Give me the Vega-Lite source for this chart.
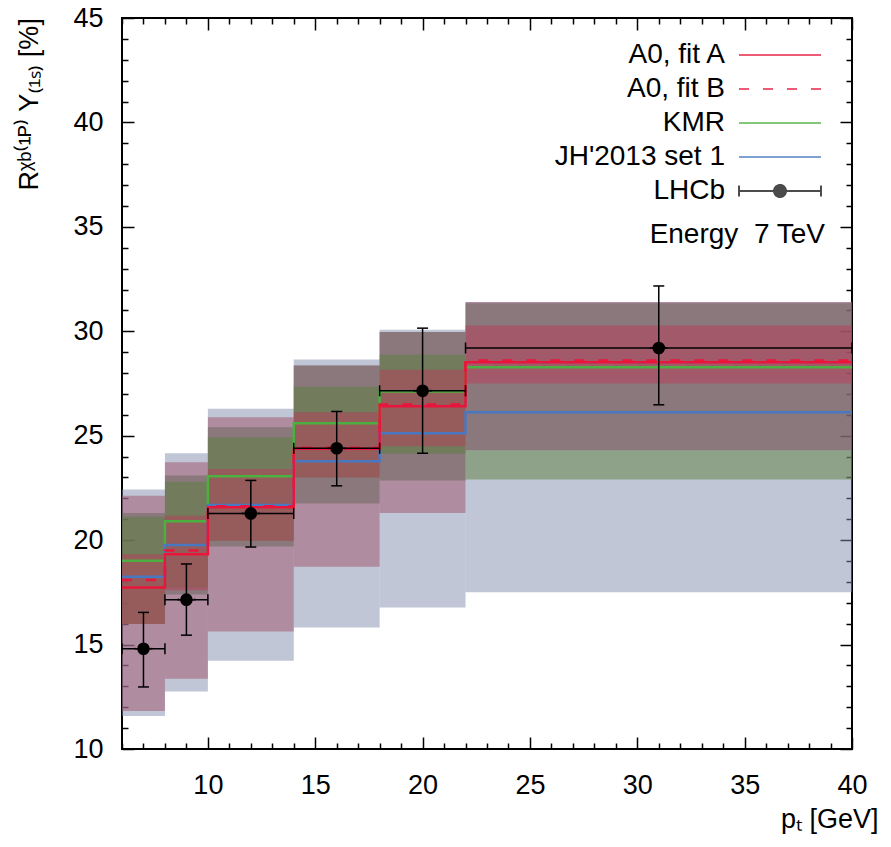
{
  "$schema": "https://vega.github.io/schema/vega-lite/v6.json",
  "width": 730,
  "height": 731,
  "autosize": "none",
  "padding": {"left": 122, "top": 18, "right": 39, "bottom": 98},
  "datasets": {
    "bands": [
      {"band": "JH", "x0": 6, "x1": 8, "lo": 11.58, "hi": 22.42},
      {"band": "JH", "x0": 8, "x1": 10, "lo": 12.75, "hi": 24.16},
      {"band": "JH", "x0": 10, "x1": 14, "lo": 14.22, "hi": 26.29},
      {"band": "JH", "x0": 14, "x1": 18, "lo": 15.82, "hi": 28.65},
      {"band": "JH", "x0": 18, "x1": 22, "lo": 16.78, "hi": 30.07},
      {"band": "JH", "x0": 22, "x1": 40, "lo": 17.5, "hi": 31.4},
      {"band": "A0 B", "x0": 6, "x1": 8, "lo": 11.82, "hi": 22.13},
      {"band": "A0 B", "x0": 8, "x1": 10, "lo": 13.36, "hi": 23.73},
      {"band": "A0 B", "x0": 10, "x1": 14, "lo": 15.63, "hi": 25.89},
      {"band": "A0 B", "x0": 14, "x1": 18, "lo": 18.73, "hi": 28.36},
      {"band": "A0 B", "x0": 18, "x1": 22, "lo": 21.3, "hi": 29.96},
      {"band": "A0 B", "x0": 22, "x1": 40, "lo": 24.3, "hi": 31.4},
      {"band": "A0 inner", "x0": 6, "x1": 8, "lo": 16.0, "hi": 21.3},
      {"band": "A0 inner", "x0": 8, "x1": 10, "lo": 17.4, "hi": 23.1},
      {"band": "A0 inner", "x0": 10, "x1": 14, "lo": 19.7, "hi": 25.4},
      {"band": "A0 inner", "x0": 14, "x1": 18, "lo": 21.76, "hi": 28.36},
      {"band": "A0 inner", "x0": 18, "x1": 22, "lo": 22.85, "hi": 29.96},
      {"band": "A0 inner", "x0": 22, "x1": 40, "lo": 24.3, "hi": 31.34},
      {"band": "KMR", "x0": 6, "x1": 8, "lo": 16.0, "hi": 21.12},
      {"band": "KMR", "x0": 8, "x1": 10, "lo": 17.73, "hi": 22.8},
      {"band": "KMR", "x0": 10, "x1": 14, "lo": 19.97, "hi": 24.93},
      {"band": "KMR", "x0": 14, "x1": 18, "lo": 23.0, "hi": 27.36},
      {"band": "KMR", "x0": 18, "x1": 22, "lo": 24.14, "hi": 28.89},
      {"band": "KMR", "x0": 22, "x1": 40, "lo": 22.9, "hi": 24.3},
      {"band": "A0 A", "x0": 6, "x1": 8, "lo": 15.98, "hi": 19.33},
      {"band": "A0 A", "x0": 8, "x1": 10, "lo": 17.6, "hi": 21.17},
      {"band": "A0 A", "x0": 10, "x1": 14, "lo": 19.97, "hi": 23.41},
      {"band": "A0 A", "x0": 14, "x1": 18, "lo": 23.0, "hi": 26.12},
      {"band": "A0 A", "x0": 18, "x1": 22, "lo": 24.5, "hi": 28.16},
      {"band": "A0 A", "x0": 22, "x1": 40, "lo": 27.5, "hi": 30.28}
    ],
    "lines": [
      {"series": "KMR", "pt": 6, "value": 19.01},
      {"series": "KMR", "pt": 8, "value": 20.9},
      {"series": "KMR", "pt": 10, "value": 23.06},
      {"series": "KMR", "pt": 14, "value": 25.6},
      {"series": "KMR", "pt": 18, "value": 27.12},
      {"series": "KMR", "pt": 22, "value": 28.28},
      {"series": "KMR", "pt": 40, "value": 28.28},
      {"series": "JH'2013 set 1", "pt": 6, "value": 18.25},
      {"series": "JH'2013 set 1", "pt": 8, "value": 19.77},
      {"series": "JH'2013 set 1", "pt": 10, "value": 21.68},
      {"series": "JH'2013 set 1", "pt": 14, "value": 23.78},
      {"series": "JH'2013 set 1", "pt": 18, "value": 25.12},
      {"series": "JH'2013 set 1", "pt": 22, "value": 26.12},
      {"series": "JH'2013 set 1", "pt": 40, "value": 26.12},
      {"series": "A0, fit A", "pt": 6, "value": 17.73},
      {"series": "A0, fit A", "pt": 8, "value": 19.33},
      {"series": "A0, fit A", "pt": 10, "value": 21.57},
      {"series": "A0, fit A", "pt": 14, "value": 24.37},
      {"series": "A0, fit A", "pt": 18, "value": 26.41},
      {"series": "A0, fit A", "pt": 22, "value": 28.52},
      {"series": "A0, fit A", "pt": 40, "value": 28.52},
      {"series": "A0, fit B", "pt": 6, "value": 18.09},
      {"series": "A0, fit B", "pt": 8, "value": 19.5},
      {"series": "A0, fit B", "pt": 10, "value": 21.62},
      {"series": "A0, fit B", "pt": 14, "value": 24.42},
      {"series": "A0, fit B", "pt": 18, "value": 26.5},
      {"series": "A0, fit B", "pt": 22, "value": 28.6},
      {"series": "A0, fit B", "pt": 40, "value": 28.6}
    ],
    "lhcb": [
      {"series": "LHCb", "pt": 7.0, "ptlo": 6, "pthi": 8, "r": 14.8, "rlo": 12.97, "rhi": 16.54},
      {"series": "LHCb", "pt": 9.0, "ptlo": 8, "pthi": 10, "r": 17.15, "rlo": 15.45, "rhi": 18.86},
      {"series": "LHCb", "pt": 12.0, "ptlo": 10, "pthi": 14, "r": 21.28, "rlo": 19.67, "rhi": 22.86},
      {"series": "LHCb", "pt": 16.0, "ptlo": 14, "pthi": 18, "r": 24.4, "rlo": 22.6, "rhi": 26.16},
      {"series": "LHCb", "pt": 20.0, "ptlo": 18, "pthi": 22, "r": 27.15, "rlo": 24.16, "rhi": 30.15},
      {"series": "LHCb", "pt": 31.0, "ptlo": 22, "pthi": 40, "r": 29.2, "rlo": 26.48, "rhi": 32.17}
    ]
  },
  "resolve": {"axis": {"x": "independent", "y": "independent"}},
  "layer": [
    {
      "data": {"name": "bands"},
      "mark": {"type": "rect"},
      "encoding": {
        "x": {
          "field": "x0",
          "type": "quantitative",
          "scale": {"domain": [6, 40], "nice": false, "zero": false},
          "axis": {
            "orient": "bottom",
            "title": "pₜ [GeV]",
            "values": [6, 7, 8, 9, 10, 11, 12, 13, 14, 15, 16, 17, 18, 19, 20, 21, 22, 23, 24, 25, 26, 27, 28, 29, 30, 31, 32, 33, 34, 35, 36, 37, 38, 39, 40],
            "tickSize": {"condition": {"test": "datum.value % 5 === 0", "value": -12}, "value": -6},
            "labelExpr": "datum.value % 5 === 0 ? datum.label : ''",
            "labelPadding": 35,
            "titleX": 756,
            "titleY": 78,
            "titleAlign": "right",
            "titleBaseline": "alphabetic"
          }
        },
        "x2": {"field": "x1"},
        "y": {
          "field": "lo",
          "type": "quantitative",
          "scale": {"domain": [10, 45], "nice": false, "zero": false},
          "axis": {
            "orient": "left",
            "title": "Rᵡᵇ⁽¹ᴾ⁾ Υ₍₁ₛ₎ [%]",
            "values": [10, 11, 12, 13, 14, 15, 16, 17, 18, 19, 20, 21, 22, 23, 24, 25, 26, 27, 28, 29, 30, 31, 32, 33, 34, 35, 36, 37, 38, 39, 40, 41, 42, 43, 44, 45],
            "tickSize": {"condition": {"test": "datum.value % 5 === 0", "value": -12}, "value": -6},
            "labelExpr": "datum.value % 5 === 0 ? datum.label : ''",
            "labelPadding": 31,
            "titleX": -85,
            "titleY": 172,
            "titleAngle": -90,
            "titleAlign": "left",
            "titleBaseline": "alphabetic"
          }
        },
        "y2": {"field": "hi"},
        "fill": {
          "field": "band",
          "type": "nominal",
          "scale": {"domain": ["JH", "A0 B", "A0 inner", "KMR", "A0 A"], "range": ["#818dad", "#a0526a", "#64645a", "#5a7d3c", "#b93b5a"]},
          "legend": null
        },
        "opacity": {
          "field": "band",
          "type": "ordinal",
          "scale": {"domain": ["JH", "A0 B", "A0 inner", "KMR", "A0 A"], "range": [0.5, 0.5, 0.4, 0.4, 0.6]},
          "legend": null
        }
      }
    },
    {
      "data": {"name": "lines"},
      "mark": {"type": "line", "interpolate": "step-after", "strokeWidth": 2.5},
      "encoding": {
        "x": {"field": "pt", "type": "quantitative", "axis": null},
        "y": {"field": "value", "type": "quantitative", "axis": null},
        "stroke": {
          "field": "series",
          "type": "nominal",
          "scale": {
            "domain": ["A0, fit A", "A0, fit B", "KMR", "JH'2013 set 1", "LHCb"],
            "range": ["#e8163c", "#e8163c", "#4cb040", "#4a78c0", "black"]
          },
          "legend": {
            "title": "Energy\u00a0 7 TeV",
            "titleOrient": "bottom",
            "titleAnchor": "end",
            "titleFontSize": 28,
            "titleFontWeight": "normal",
            "titlePadding": 16,
            "orient": "none",
            "legendX": 527,
            "legendY": 23,
            "padding": 0,
            "symbolSize": 400,
            "symbolStrokeWidth": 2,
            "symbolFillColor": "black",
            "labelFontSize": 28,
            "labelLimit": 400,
            "labelAlign": "right",
            "labelOffset": -69,
            "rowPadding": 6
          }
        },
        "strokeDash": {
          "field": "series",
          "type": "nominal",
          "scale": {
            "domain": ["A0, fit A", "A0, fit B", "KMR", "JH'2013 set 1", "LHCb"],
            "range": [[1, 0], [10, 14], [1, 0], [1, 0], [1, 0]]
          },
          "legend": {
            "title": "Energy\u00a0 7 TeV",
            "titleOrient": "bottom",
            "titleAnchor": "end",
            "titleFontSize": 28,
            "titleFontWeight": "normal",
            "titlePadding": 16,
            "orient": "none",
            "legendX": 527,
            "legendY": 23,
            "padding": 0,
            "symbolSize": 400,
            "symbolStrokeWidth": 2,
            "symbolFillColor": "black",
            "labelFontSize": 28,
            "labelLimit": 400,
            "labelAlign": "right",
            "labelOffset": -69,
            "rowPadding": 6
          }
        }
      }
    },
    {
      "data": {"name": "lhcb"},
      "mark": {"type": "rule", "color": "black", "strokeWidth": 1.5},
      "encoding": {
        "x": {"field": "pt", "type": "quantitative", "axis": null},
        "y": {"field": "rlo", "type": "quantitative", "axis": null},
        "y2": {"field": "rhi"}
      }
    },
    {
      "data": {"name": "lhcb"},
      "mark": {"type": "rule", "color": "black", "strokeWidth": 1.5},
      "encoding": {
        "x": {"field": "ptlo", "type": "quantitative", "axis": null},
        "x2": {"field": "pthi"},
        "y": {"field": "r", "type": "quantitative", "axis": null}
      }
    },
    {
      "data": {"name": "lhcb"},
      "mark": {"type": "tick", "orient": "horizontal", "size": 11, "thickness": 1.5, "color": "black", "opacity": 1},
      "encoding": {
        "x": {"field": "pt", "type": "quantitative", "axis": null},
        "y": {"field": "rhi", "type": "quantitative", "axis": null}
      }
    },
    {
      "data": {"name": "lhcb"},
      "mark": {"type": "tick", "orient": "horizontal", "size": 11, "thickness": 1.5, "color": "black", "opacity": 1},
      "encoding": {
        "x": {"field": "pt", "type": "quantitative", "axis": null},
        "y": {"field": "rlo", "type": "quantitative", "axis": null}
      }
    },
    {
      "data": {"name": "lhcb"},
      "mark": {"type": "tick", "orient": "vertical", "size": 11, "thickness": 1.5, "color": "black", "opacity": 1},
      "encoding": {
        "x": {"field": "ptlo", "type": "quantitative", "axis": null},
        "y": {"field": "r", "type": "quantitative", "axis": null}
      }
    },
    {
      "data": {"name": "lhcb"},
      "mark": {"type": "tick", "orient": "vertical", "size": 11, "thickness": 1.5, "color": "black", "opacity": 1},
      "encoding": {
        "x": {"field": "pthi", "type": "quantitative", "axis": null},
        "y": {"field": "r", "type": "quantitative", "axis": null}
      }
    },
    {
      "data": {"name": "lhcb"},
      "mark": {"type": "point", "filled": false, "size": 16, "strokeWidth": 1.5},
      "encoding": {
        "x": {"field": "pt", "type": "quantitative", "axis": null},
        "y": {"field": "r", "type": "quantitative", "axis": null},
        "stroke": {"field": "series", "type": "nominal"},
        "shape": {
          "field": "series",
          "type": "nominal",
          "scale": {
            "domain": ["A0, fit A", "A0, fit B", "KMR", "JH'2013 set 1", "LHCb"],
            "range": [
              "M-4.1,0H4.1",
              "M-4.1,0H4.1",
              "M-4.1,0H4.1",
              "M-4.1,0H4.1",
              "M-4.1,0H4.1M-4.1,-0.55V0.55M4.1,-0.55V0.55M0.6,0A0.6,0.6,0,1,1,-0.6,0A0.6,0.6,0,1,1,0.6,0M0.42,0A0.42,0.42,0,1,1,-0.42,0A0.42,0.42,0,1,1,0.42,0M0.24,0A0.24,0.24,0,1,1,-0.24,0A0.24,0.24,0,1,1,0.24,0M0.08,0A0.08,0.08,0,1,1,-0.08,0A0.08,0.08,0,1,1,0.08,0"
            ]
          },
          "legend": {
            "title": "Energy\u00a0 7 TeV",
            "titleOrient": "bottom",
            "titleAnchor": "end",
            "titleFontSize": 28,
            "titleFontWeight": "normal",
            "titlePadding": 16,
            "orient": "none",
            "legendX": 527,
            "legendY": 23,
            "padding": 0,
            "symbolSize": 400,
            "symbolStrokeWidth": 2,
            "symbolFillColor": "black",
            "labelFontSize": 28,
            "labelLimit": 400,
            "labelAlign": "right",
            "labelOffset": -69,
            "rowPadding": 6
          }
        }
      }
    },
    {
      "data": {"name": "lhcb"},
      "mark": {"type": "circle", "size": 160, "color": "black", "opacity": 1},
      "encoding": {
        "x": {"field": "pt", "type": "quantitative", "axis": null},
        "y": {"field": "r", "type": "quantitative", "axis": null}
      }
    },
    {
      "data": {"name": "lhcb"},
      "mark": {"type": "point", "opacity": 0},
      "encoding": {
        "x": {
          "field": "pt",
          "type": "quantitative",
          "axis": {
            "orient": "top",
            "title": null,
            "labels": false,
            "values": [6, 7, 8, 9, 10, 11, 12, 13, 14, 15, 16, 17, 18, 19, 20, 21, 22, 23, 24, 25, 26, 27, 28, 29, 30, 31, 32, 33, 34, 35, 36, 37, 38, 39, 40],
            "tickSize": {"condition": {"test": "datum.value % 5 === 0", "value": -12}, "value": -6}
          }
        },
        "y": {
          "field": "r",
          "type": "quantitative",
          "axis": {
            "orient": "right",
            "title": null,
            "labels": false,
            "values": [10, 11, 12, 13, 14, 15, 16, 17, 18, 19, 20, 21, 22, 23, 24, 25, 26, 27, 28, 29, 30, 31, 32, 33, 34, 35, 36, 37, 38, 39, 40, 41, 42, 43, 44, 45],
            "tickSize": {"condition": {"test": "datum.value % 5 === 0", "value": -12}, "value": -6}
          }
        }
      }
    }
  ],
  "config": {
    "font": "Liberation Sans",
    "view": {"stroke": "black", "strokeWidth": 2},
    "axis": {
      "domain": false,
      "grid": false,
      "tickColor": "black",
      "tickWidth": 1.5,
      "labelColor": "black",
      "labelFontSize": 27,
      "labelFlush": false,
      "labelOverlap": false,
      "titleColor": "black",
      "titleFontSize": 27,
      "titleFontWeight": "normal"
    },
    "legend": {"labelColor": "black", "titleColor": "black"}
  }
}
